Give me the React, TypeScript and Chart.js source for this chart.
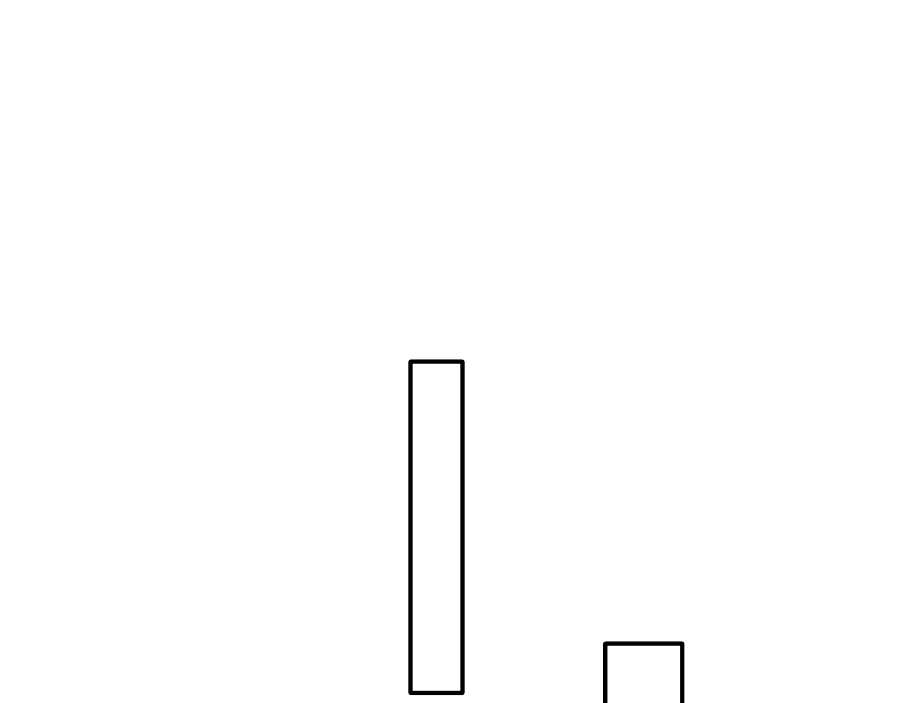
import React, { useEffect, useRef } from "react";
import { Chart, registerables } from "chart.js";
Chart.register(...registerables);

// ---------- Data ----------
// two floating bars, positions on a hidden 0–100 x scale, spans on a hidden 0–100 y scale
const barNames = ["first", "second"];
const barCenters = [48.5, 71.53];
const barLows = [1.14, -3];
const barHighs = [48.86, 8.75];
const barThickness = [56, 81];

export default function App() {
  const canvasRef = useRef<HTMLCanvasElement | null>(null);

  useEffect(() => {
    document.body.style.margin = "0";
    const canvas = canvasRef.current;
    if (!canvas) return;

    const chart = new Chart(canvas, {
      type: "bar",
      data: {
        datasets: barNames.map((name, i) => ({
          label: name,
          data: [{ x: barCenters[i], y: [barLows[i], barHighs[i]] }] as any,
          barThickness: barThickness[i],
          backgroundColor: "#ffffff",
          borderColor: "#000000",
          borderWidth: 4.5,
          borderRadius: 3,
          borderSkipped: false,
          grouped: false,
        })),
      },
      options: {
        responsive: true,
        maintainAspectRatio: false,
        animation: false,
        layout: { padding: 0 },
        plugins: { legend: { display: false }, tooltip: { enabled: false } },
        scales: {
          x: { type: "linear", min: 0, max: 100, offset: false, display: false },
          y: { type: "linear", min: 0, max: 100, display: false },
        },
      },
    });

    return () => chart.destroy();
  }, []);

  return (
    <div style={{ position: "fixed", left: 0, top: 0, width: 900, height: 703, background: "#fff" }}>
      <canvas ref={canvasRef} />
    </div>
  );
}
